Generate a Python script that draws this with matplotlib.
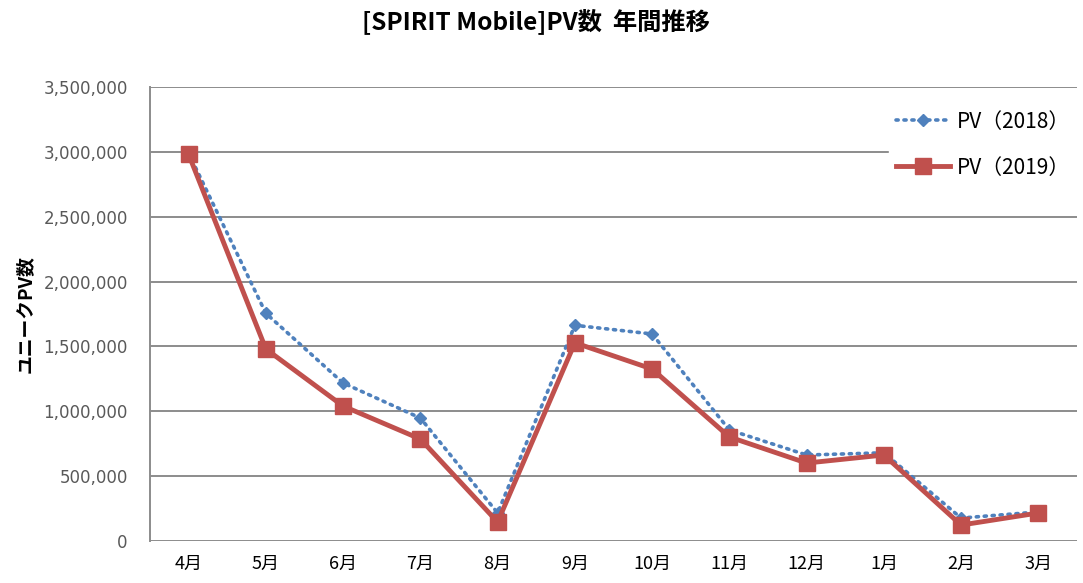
import matplotlib
matplotlib.use("Agg")
import matplotlib.pyplot as plt
import matplotlib.ticker as mticker

plt.rcParams['font.family'] = ['DejaVu Sans', 'Noto Sans CJK JP']

# months (fiscal year order) and PV counts
months = ['4月', '5月', '6月', '7月', '8月', '9月', '10月', '11月', '12月', '1月', '2月', '3月']
pv_2018 = [2990000, 1755000, 1218000, 948000, 216000, 1663000, 1596000, 856000, 663000, 680000, 177000, 224000]
pv_2019 = [2980000, 1480000, 1040000, 786000, 146000, 1528000, 1326000, 802000, 601000, 663000, 123000, 216000]
yticks = [0, 500000, 1000000, 1500000, 2000000, 2500000, 3000000, 3500000]

blue = '#4F81BD'
red = '#C0504D'
grid_col = '#8C8C8C'
jp = ['Noto Sans CJK JP', 'DejaVu Sans']

fig = plt.figure(figsize=(10.83, 5.83), dpi=100)
ax = fig.add_axes([150 / 1083, 1 - 541 / 583, 927 / 1083, 454 / 583])

x = range(len(months))
ax.plot(x, pv_2018, linestyle=(0, (0.6, 1.6)), dash_capstyle='round', color=blue, lw=2.6,
        marker='D', markersize=6.5, markerfacecolor=blue, markeredgecolor=blue,
        label='PV（2018）', zorder=3)
ax.plot(x, pv_2019, linestyle='-', color=red, lw=3.5,
        marker='s', markersize=11, markerfacecolor=red, markeredgecolor=red,
        label='PV（2019）', zorder=4)

ax.set_xlim(-0.5, len(months) - 0.5)
ax.set_ylim(0, 3500000)
ax.set_yticks(yticks)
ax.yaxis.set_major_formatter(mticker.FuncFormatter(lambda v, p: f'{int(v):,}'))
ax.set_xticks(list(x))
ax.set_xticklabels(months, fontfamily=jp, fontsize=13, color='black')
ax.tick_params(axis='y', length=0, pad=16, labelsize=12, labelcolor='#595959')
ax.tick_params(axis='x', length=0, pad=10)

ax.grid(axis='y', color=grid_col, lw=1.4, zorder=0)
for s in ['top', 'right', 'bottom']:
    ax.spines[s].set_visible(False)
ax.spines['left'].set_color(grid_col)
ax.spines['left'].set_linewidth(1.4)

ax.set_ylabel('ユニークPV数', fontfamily=jp, fontweight='bold', fontsize=13.5, labelpad=6)
fig.text(0.495, 1 - 21 / 583, '[SPIRIT Mobile]PV数  年間推移', ha='center', va='center',
         fontfamily=jp, fontweight='bold', fontsize=17.5)

leg = ax.legend(loc='upper right', bbox_to_anchor=(1.0, 0.964), frameon=True, framealpha=1,
                edgecolor='white', facecolor='white', fancybox=False,
                handlelength=2.6, handletextpad=0.3, labelspacing=1.15, borderpad=0.35,
                borderaxespad=0.0, prop={'family': jp, 'size': 15})

fig.savefig('out.png', dpi=100, facecolor='white')
